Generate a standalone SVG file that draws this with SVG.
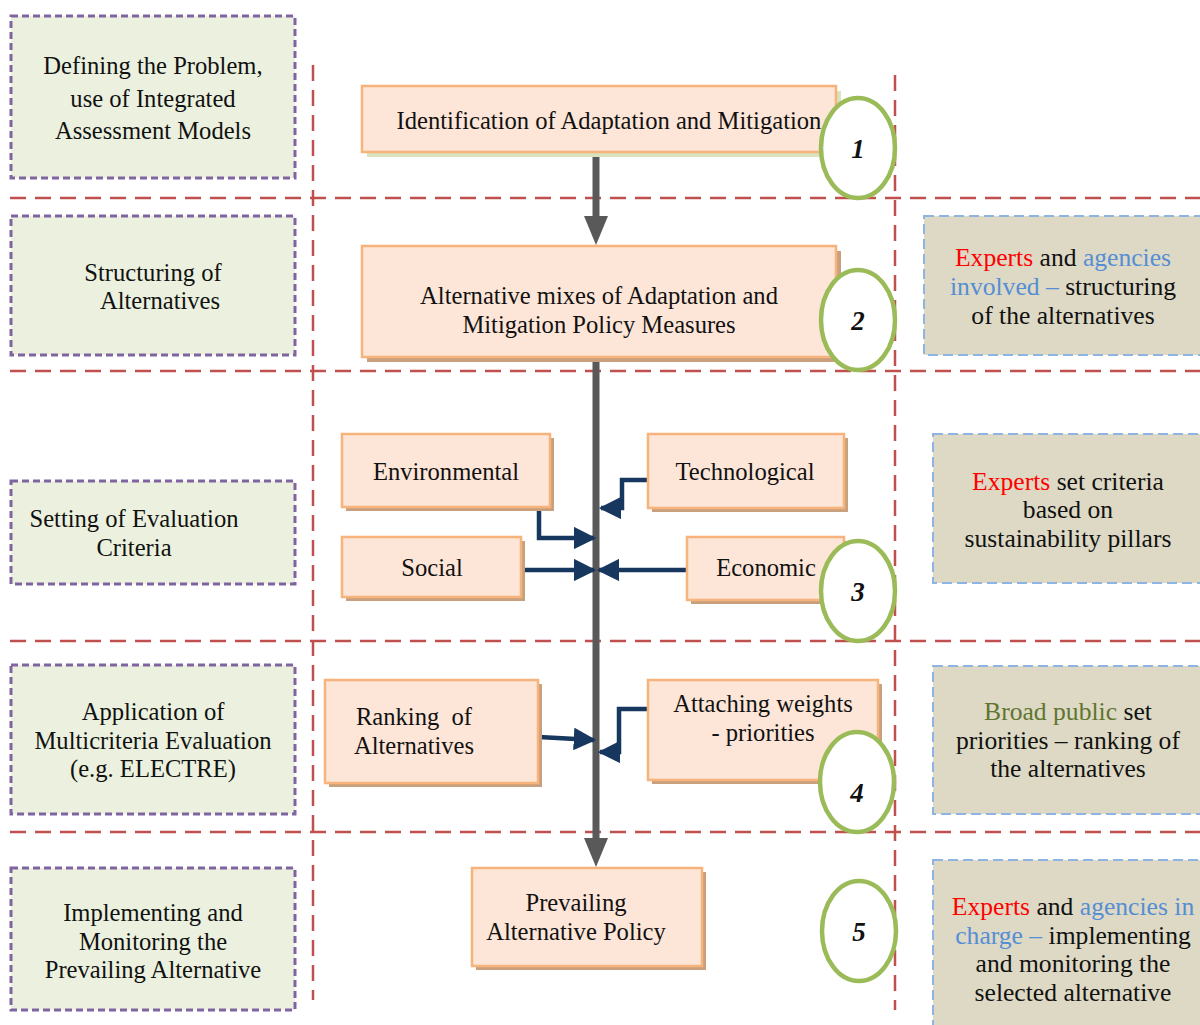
<svg xmlns="http://www.w3.org/2000/svg" width="1200" height="1025" viewBox="0 0 1200 1025">
<style>
text{font-family:"Liberation Serif","Times New Roman",serif;font-size:24.6px;fill:#111;text-anchor:middle}
.rt{font-size:25.6px}
.lb{fill:#ebf1de;stroke:#8064a2;stroke-width:3;stroke-dasharray:7,4}
.rb{fill:#ddd9c4;stroke:#8eb4e3;stroke-width:2;stroke-dasharray:10,5}
.cb{fill:#fde6d8;stroke:#f6b37c;stroke-width:2.5}
.sh{fill:#c9a07e}
.shg{fill:#d7e4bd}
.red{stroke:#c0504d;stroke-width:2.5;stroke-dasharray:16,9;fill:none}
.circ{fill:#fff;stroke:#9bbb59;stroke-width:4.5}
.num{font-weight:bold;font-style:italic;font-size:27px}
.blue{stroke:#17375e;stroke-width:4.5;fill:none}
.r{fill:#ff0000}
.b{fill:#558ed5}
.g{fill:#5f7530}
</style>
<defs>
<marker id="bh" viewBox="0 0 10 10" refX="9" refY="5" markerWidth="5" markerHeight="5" orient="auto" markerUnits="strokeWidth">
<path d="M0,0 L10,5 L0,10 z" fill="#17375e"/>
</marker>
</defs>

<g id="separators">
<line class="red" x1="313" y1="65" x2="313" y2="1000"/>
<line class="red" x1="895" y1="75" x2="895" y2="1010"/>
<line class="red" x1="10" y1="198" x2="1200" y2="198"/>
<line class="red" x1="10" y1="371" x2="1200" y2="371"/>
<line class="red" x1="10" y1="641" x2="1200" y2="641"/>
<line class="red" x1="10" y1="832" x2="1200" y2="832"/>
</g>

<g id="phase1"><rect class="lb" x="11" y="16" width="284" height="162"/>
<text x="153" y="74">Defining the Problem,</text><text x="153" y="107">use of Integrated</text><text x="153" y="139">Assessment Models</text></g>
<g id="phase2"><rect class="lb" x="11" y="216" width="284" height="139"/>
<text x="153" y="281">Structuring of</text><text x="160" y="309">Alternatives</text></g>
<g id="phase3"><rect class="lb" x="11" y="481" width="284" height="103"/>
<text x="134" y="527">Setting of Evaluation</text><text x="134" y="556">Criteria</text></g>
<g id="phase4"><rect class="lb" x="11" y="665" width="284" height="149"/>
<text x="153" y="720">Application of</text><text x="153" y="749">Multicriteria Evaluation</text><text x="153" y="777">(e.g. ELECTRE)</text></g>
<g id="phase5"><rect class="lb" x="11" y="868" width="284" height="142"/>
<text x="153" y="921">Implementing and</text><text x="153" y="950">Monitoring the</text><text x="153" y="978">Prevailing Alternative</text></g>

<g id="connectors">
<line x1="596" y1="152" x2="596" y2="220" stroke="#595959" stroke-width="7"/>
<path d="M584,216 L608,216 L596,245 z" fill="#595959"/>
<line x1="596" y1="357" x2="596" y2="842" stroke="#595959" stroke-width="7"/>
<path d="M584,838 L608,838 L596,867 z" fill="#595959"/>
<path class="blue" d="M647,480 H622 V508 H601" marker-end="url(#bh)"/>
<path class="blue" d="M539,508 V538 H594" marker-end="url(#bh)"/>
<path class="blue" d="M522,570 H594" marker-end="url(#bh)"/>
<path class="blue" d="M687,570 H599" marker-end="url(#bh)"/>
<path class="blue" d="M539,737 L594,740" marker-end="url(#bh)"/>
<path class="blue" d="M648,709 H619 V752 H600" marker-end="url(#bh)"/>
</g>

<g id="step1"><rect class="shg" x="367" y="91" width="474" height="66"/><rect class="cb" x="362" y="86" width="474" height="66"/>
<text x="609" y="129">Identification of Adaptation and Mitigation</text></g>
<g id="step2"><rect class="sh" x="367" y="251" width="474" height="111"/><rect class="cb" x="362" y="246" width="474" height="111"/>
<text x="599" y="304">Alternative mixes of Adaptation and</text><text x="599" y="333">Mitigation Policy Measures</text></g>
<g id="environmental"><rect class="sh" x="346" y="438" width="208" height="73"/><rect class="cb" x="342" y="434" width="208" height="73"/><text x="446" y="480">Environmental</text></g>
<g id="technological"><rect class="sh" x="652" y="438" width="196" height="74"/><rect class="cb" x="648" y="434" width="196" height="74"/><text x="745" y="480">Technological</text></g>
<g id="social"><rect class="sh" x="346" y="541" width="179" height="60"/><rect class="cb" x="342" y="537" width="179" height="60"/><text x="432" y="576">Social</text></g>
<g id="economic"><rect class="sh" x="691" y="541" width="157" height="63"/><rect class="cb" x="687" y="537" width="157" height="63"/><text x="766" y="576">Economic</text></g>
<g id="ranking"><rect class="sh" x="329" y="684" width="213" height="103"/><rect class="cb" x="325" y="680" width="213" height="103"/><text x="414" y="725" xml:space="preserve">Ranking  of</text><text x="414" y="754">Alternatives</text></g>
<g id="weights"><rect class="sh" x="652" y="684" width="230" height="100"/><rect class="cb" x="648" y="680" width="230" height="100"/><text x="763" y="712">Attaching weights</text><text x="763" y="741">- priorities</text></g>
<g id="prevailing"><rect class="sh" x="476" y="872" width="230" height="98"/><rect class="cb" x="472" y="868" width="230" height="98"/><text x="576" y="911">Prevailing</text><text x="576" y="940">Alternative Policy</text></g>

<g id="marker1"><ellipse class="circ" cx="858" cy="148" rx="37" ry="50"/><text class="num" x="858" y="158">1</text></g>
<g id="marker2"><ellipse class="circ" cx="858" cy="320" rx="37" ry="50"/><text class="num" x="858" y="330">2</text></g>
<g id="marker3"><ellipse class="circ" cx="858" cy="591" rx="37" ry="50"/><text class="num" x="858" y="601">3</text></g>
<g id="marker4"><ellipse class="circ" cx="857" cy="782" rx="37" ry="50"/><text class="num" x="857" y="802">4</text></g>
<g id="marker5"><ellipse class="circ" cx="859" cy="931" rx="37" ry="50"/><text class="num" x="859" y="941">5</text></g>

<g id="actors2"><rect class="rb" x="924" y="216" width="290" height="139"/>
<text class="rt" x="1063" y="266"><tspan class="r">Experts</tspan> and <tspan class="b">agencies</tspan></text>
<text class="rt" x="1063" y="295"><tspan class="b">involved –</tspan> structuring</text>
<text class="rt" x="1063" y="324">of the alternatives</text></g>
<g id="actors3"><rect class="rb" x="933" y="434" width="280" height="149"/>
<text class="rt" x="1068" y="490"><tspan class="r">Experts</tspan> set criteria</text>
<text class="rt" x="1068" y="518">based on</text>
<text class="rt" x="1068" y="547">sustainability pillars</text></g>
<g id="actors4"><rect class="rb" x="933" y="666" width="280" height="148"/>
<text class="rt" x="1068" y="720"><tspan class="g">Broad public</tspan> set</text>
<text class="rt" x="1068" y="749">priorities – ranking of</text>
<text class="rt" x="1068" y="777">the alternatives</text></g>
<g id="actors5"><rect class="rb" x="933" y="860" width="280" height="180"/>
<text class="rt" x="1073" y="915"><tspan class="r">Experts</tspan> and <tspan class="b">agencies in</tspan></text>
<text class="rt" x="1073" y="944"><tspan class="b">charge –</tspan> implementing</text>
<text class="rt" x="1073" y="972">and monitoring the</text>
<text class="rt" x="1073" y="1001">selected alternative</text></g>
</svg>
